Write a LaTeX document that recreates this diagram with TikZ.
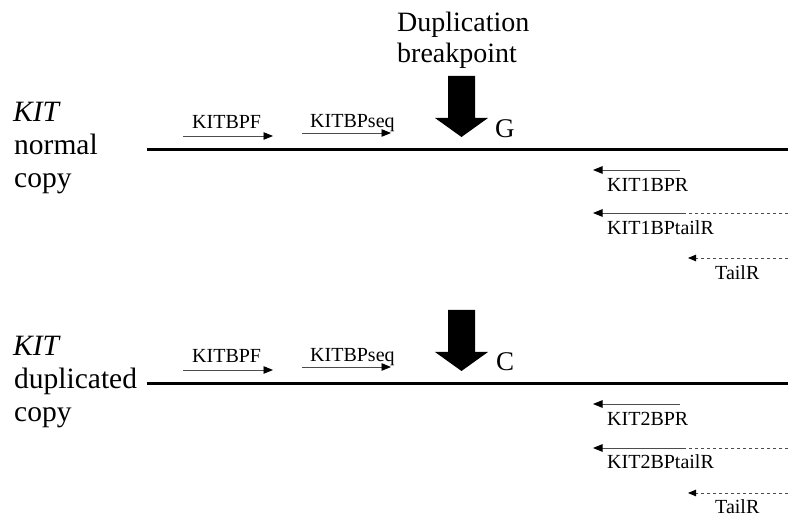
\documentclass[tikz,border=0pt]{standalone}
\usepackage{fontspec}
\setmainfont{Liberation Serif}
\usetikzlibrary{arrows.meta}

\tikzset{
	chrom/.style={line width=3pt},
	primer/.style={line width=0.9pt, black!70, -{Triangle[length=9.5pt,width=7.5pt,color=black]}},
	tailpart/.style={line width=0.9pt, black!70, dash pattern=on 3.5pt off 2.5pt},
	toplab/.style={font=\fontsize{28}{33}\selectfont, inner sep=0pt, anchor=base west},
	copylab/.style={font=\fontsize{29.5}{33}\selectfont, inner sep=0pt, anchor=base west},
	baselab/.style={font=\fontsize{27}{33}\selectfont, inner sep=0pt, anchor=base west},
	primlab/.style={font=\fontsize{20}{24}\selectfont, inner sep=0pt, anchor=base west},
}

\begin{document}
\begin{tikzpicture}[x=1pt, y=-1pt]
			%%%%% START %%%%%
			\useasboundingbox (0, 0) rectangle (788, 518);
			
			\node[toplab] (dup) at (397, 32) {Duplication};
			\node[toplab] (bkp) at (397, 63) {breakpoint};
			
			%%%%% normal copy %%%%%
			\node[copylab] (kitA) at (13, 122) {\textit{KIT}};
			\node[copylab] (normA) at (14, 155) {normal};
			\node[copylab] (copyA) at (14, 188) {copy};
			
			\coordinate (lineAl) at (147, 150);
			\coordinate (lineAr) at (788, 150);
			\draw[chrom] (lineAl) -- (lineAr);
			
			\fill (448, 76) -- (475, 76) -- (475, 118) -- (488, 118) -- (461.5, 137) -- (435, 118) -- (448, 118) -- cycle;
			\node[baselab] (baseG) at (495, 138) {G};
			
			\coordinate (bpfAs) at (183, 136);
			\coordinate (bpfAe) at (273, 136);
			\draw[primer] (bpfAs) -- (bpfAe);
			\node[primlab] (bpfA) at (192, 129) {KITBPF};
			
			\coordinate (seqAs) at (302, 133);
			\coordinate (seqAe) at (391, 133);
			\draw[primer] (seqAs) -- (seqAe);
			\node[primlab] (seqA) at (310, 128) {KITBPseq};
			
			\coordinate (bprAs) at (680, 170);
			\coordinate (bprAe) at (593, 170);
			\draw[primer] (bprAs) -- (bprAe);
			\node[primlab] (bprA) at (607, 192) {KIT1BPR};
			
			\coordinate (ptAr) at (788, 213);
			\coordinate (ptAm) at (683, 213);
			\coordinate (ptAe) at (593, 213);
			\draw[tailpart] (ptAr) -- (ptAm);
			\draw[primer] (ptAm) -- (ptAe);
			\node[primlab] (ptA) at (607, 235) {KIT1BPtailR};
			
			\coordinate (tlAs) at (788, 258);
			\coordinate (tlAe) at (688, 258);
			\draw[tailpart, -{Triangle[length=8pt,width=6.5pt,color=black]}] (tlAs) -- (tlAe);
			\node[primlab] (tlA) at (715, 280) {TailR};
			
			%%%%% duplicated copy %%%%%
			\node[copylab] (kitB) at (13, 356) {\textit{KIT}};
			\node[copylab] (dupB) at (14, 389) {duplicated};
			\node[copylab] (copyB) at (14, 422) {copy};
			
			\coordinate (lineBl) at (147, 384);
			\coordinate (lineBr) at (788, 384);
			\draw[chrom] (lineBl) -- (lineBr);
			
			\fill (448, 310) -- (475, 310) -- (475, 352) -- (488, 352) -- (461.5, 371) -- (435, 352) -- (448, 352) -- cycle;
			\node[baselab] (baseC) at (496, 371) {C};
			
			\coordinate (bpfBs) at (183, 370);
			\coordinate (bpfBe) at (273, 370);
			\draw[primer] (bpfBs) -- (bpfBe);
			\node[primlab] (bpfB) at (192, 363) {KITBPF};
			
			\coordinate (seqBs) at (302, 367);
			\coordinate (seqBe) at (391, 367);
			\draw[primer] (seqBs) -- (seqBe);
			\node[primlab] (seqB) at (310, 362) {KITBPseq};
			
			\coordinate (bprBs) at (680, 404);
			\coordinate (bprBe) at (593, 404);
			\draw[primer] (bprBs) -- (bprBe);
			\node[primlab] (bprB) at (607, 426) {KIT2BPR};
			
			\coordinate (ptBr) at (788, 448);
			\coordinate (ptBm) at (683, 448);
			\coordinate (ptBe) at (593, 448);
			\draw[tailpart] (ptBr) -- (ptBm);
			\draw[primer] (ptBm) -- (ptBe);
			\node[primlab] (ptB) at (607, 469) {KIT2BPtailR};
			
			\coordinate (tlBs) at (788, 493);
			\coordinate (tlBe) at (688, 493);
			\draw[tailpart, -{Triangle[length=8pt,width=6.5pt,color=black]}] (tlBs) -- (tlBe);
			\node[primlab] (tlB) at (715, 514) {TailR};
			%%%%% END %%%%%
\end{tikzpicture}
\end{document}
